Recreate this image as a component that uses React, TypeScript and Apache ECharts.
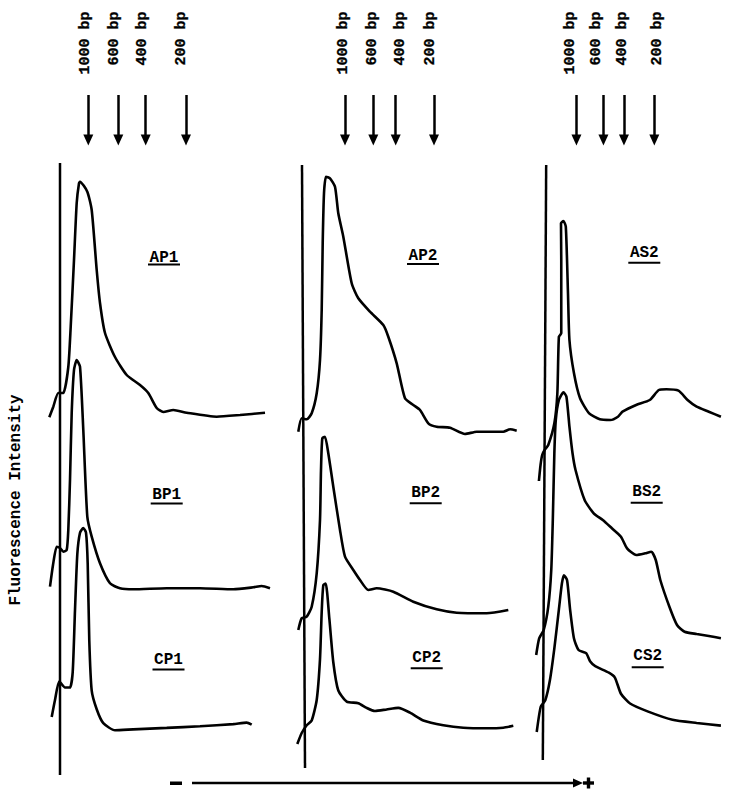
import React, { useEffect, useRef } from "react";
import * as echarts from "echarts";

// ---- Data (migration relative to the well, relative fluorescence above each trace baseline) ----
const bpLabels = ["1000 bp", "600 bp", "400 bp", "200 bp"];
const markerPos1 = [28.3, 58.3, 85.7, 126];
const markerPos2 = [42, 70.3, 92.7, 131];
const markerPos3 = [35, 64.7, 87.3, 120.7];
const labelPos1 = [26, 55, 83, 122];
const labelPos2 = [41.2, 69.8, 97.5, 127.8];
const labelPos3 = [29.5, 58, 86.5, 124.8];

const traceNames = [["AP1", "BP1", "CP1"], ["AP2", "BP2", "CP2"], ["AS2", "BS2", "CS2"]];

const ap1 = [[-10.7, 2.7], [-6.7, 13.3], [-1.7, 27], [3.3, 27], [8.3, 53], [10.7, 93.3], [14, 160], [16.7, 217], [19, 236.7], [20, 238.3], [27.3, 228.3], [31.7, 210], [36.7, 150], [40, 117], [45, 87], [55, 63], [66.7, 45], [80, 35], [88.3, 27], [96.7, 12], [103.3, 8], [113.3, 10], [126.7, 7.3], [156.7, 3.3], [180, 5], [205, 7.3]];
const bp1 = [[-10, 3.3], [-7, 25], [-3.3, 43.3], [0, 42], [3.3, 38.3], [6.7, 40], [8.3, 60], [10, 110], [11.7, 177], [14, 220], [16.7, 230], [20, 223.3], [23.3, 160], [27.3, 73.3], [31.7, 53.3], [40, 26.7], [50, 6.7], [60, 1.7], [73.3, 0.7], [106.7, 1.7], [140, 1.7], [173.3, 0.7], [193.3, 2.7], [201.7, 4], [210, 1.7]];
const cp1 = [[-8.3, 15], [-5, 33.3], [-0.7, 53.3], [5, 46.7], [10, 46.7], [12.7, 63.3], [15, 130], [17.3, 190], [20, 213.3], [23.3, 218.3], [26, 213.3], [27.7, 180], [29.3, 96.7], [31.7, 43.3], [36.7, 23.3], [43.3, 8.3], [55, 0.7], [73.3, 1.7], [106.7, 3.3], [140, 5], [173.3, 7.3], [186.7, 9], [191.7, 6.7]];

const ap2 = [[-4.7, 3.3], [-1.3, 16.7], [3.7, 15.7], [8.7, 21.7], [13.7, 41.7], [17, 75], [18.7, 125], [19.7, 191.7], [21, 241.7], [23, 258.3], [27, 256.7], [32, 248.3], [35.3, 221.7], [40.3, 198.3], [48.7, 151.7], [55.3, 136.7], [67, 123.3], [80.3, 110], [85.3, 98.3], [93.7, 71.7], [102, 36.7], [110.3, 30], [117, 25], [125.3, 11.7], [133.7, 8.3], [147, 7.3], [162, 1], [173.7, 3.3], [200.3, 3.3], [207, 5.7], [213.7, 4.3]];
const bp2 = [[-4.7, -15], [-1.3, -3.3], [3.7, -1.7], [8.7, 8.3], [13.7, 41.7], [17, 95], [18, 145], [19.3, 176.7], [22, 178.3], [25.3, 161.7], [30.3, 128.3], [37, 85], [42, 58.3], [50.3, 45], [57, 35], [65.3, 25], [73.7, 26.7], [90.3, 23.3], [110.3, 13.3], [133.7, 5.7], [153.7, 2.3], [183.7, 1.7], [205.3, 5]];
const cp2 = [[-5.7, -15], [-1.3, -3.3], [3.7, 5], [8.7, 10], [13.7, 31.7], [17, 75], [18.7, 125], [20.3, 153.3], [22.7, 155], [26.3, 118.3], [30.3, 71.7], [35.3, 41.7], [43.7, 30], [55.3, 28.3], [63.7, 23.3], [72, 20], [83.7, 21.7], [95.3, 23.3], [107, 18.3], [120.3, 10], [140.3, 5], [160.3, 2.3], [183.7, 1.7], [200.3, 2.3], [210.3, 4.3]];

const as2 = [[-6.3, -56], [-4.5, -40], [-2.7, -30], [0, -25], [4, -20], [10.7, 1.7], [14, 31.7], [15.7, 88.3], [18.3, 91.7], [18.3, 165], [18, 201.7], [20.7, 204], [23.3, 198.3], [25.7, 131.7], [27.3, 85], [32.3, 51.7], [39, 26.7], [49, 11.7], [60.7, 5.7], [72.3, 5], [80.7, 8.3], [85.7, 13.3], [100.7, 20], [115.7, 25], [125.7, 35], [134, 35.7], [147.3, 34.3], [157.3, 25], [167.3, 18.3], [180.7, 13.3], [194, 8.3]];
const bs2 = [[-9.3, -15], [-6, 1.7], [-1, 10], [4, 33.3], [7.3, 70], [9, 120], [10.7, 186.7], [12.3, 220], [15.7, 240], [20.7, 247.7], [24, 243.3], [27.3, 213.3], [30.7, 186.7], [34, 170], [44, 140], [54, 126.7], [64, 120], [74, 111.7], [84, 103.3], [90.7, 91.7], [100.7, 85], [110.7, 86.7], [117.3, 88.3], [122.3, 80], [127.3, 60], [137.3, 33.3], [145.7, 15], [154, 8.3], [167.3, 6], [180.7, 4], [194, 1.7]];
const cs2 = [[-8.7, -4.3], [-4.3, 21.7], [0.7, 28.3], [5.7, 48.3], [10.7, 81.7], [15.7, 121.7], [19, 148.3], [21.3, 156.7], [24.7, 151.7], [28, 121.7], [32.3, 91.7], [37.3, 80], [45.7, 76.7], [50, 68.3], [55.7, 63.3], [70.7, 56.7], [77.3, 51.7], [84, 35], [94, 25], [114, 16.7], [140.7, 8.3], [167.3, 5], [194, 2.3]];

// well line end points (relative migration, vertical page position)
const well1 = [[0, 163], [0, 775]];
const well2 = [[-1, 165], [2, 768]];
const well3 = [[1.7, 165], [-2, 760]];

// ---- Layout ----
const INK = "#000";
const FONT = '"Liberation Mono", "DejaVu Sans Mono", monospace';
const WELL_X = [60, 303, 546];
const BASELINES = [[420, 590, 750], [435, 615, 745], [425, 640, 735]];
const X_MIN = -15;
const X_MAX = 215;
const Y_MIN = -70;
const Y_MAX = 270;
const SHAFT_TOP = 95;
const HEAD_Y = 140;
const LABEL_TOP = 12;

const panelTraces = [[ap1, bp1, cp1], [ap2, bp2, cp2], [as2, bs2, cs2]];
const panelMarkers = [markerPos1, markerPos2, markerPos3];
const panelLabels = [labelPos1, labelPos2, labelPos3];
const panelWells = [well1, well2, well3];

// label placement (center x, center y, underline y)
const TAG_POS: Record<string, [number, number, number]> = {
  AP1: [164, 258, 264.5], BP1: [166.7, 494.5, 503.5], CP1: [168.5, 660, 669.5],
  AP2: [423, 256, 264], BP2: [425.7, 493, 503.3], CP2: [426.7, 658, 668.3],
  AS2: [644.3, 253, 262.7], BS2: [646.7, 492, 502.7], CS2: [647.7, 656, 667.3],
};

function buildOption() {
  const grid: any[] = [];
  const xAxis: any[] = [];
  const yAxis: any[] = [];
  const series: any[] = [];
  let g = 0;
  for (let p = 0; p < 3; p++) {
    // frame grid (whole page height) for well line, arrows and size labels
    grid.push({ left: WELL_X[p] + X_MIN, width: X_MAX - X_MIN, top: 0, height: 796 });
    xAxis.push({ gridIndex: g, type: "value", min: X_MIN, max: X_MAX, show: false });
    yAxis.push({ gridIndex: g, type: "value", min: 0, max: 796, inverse: true, show: false });
    series.push({
      type: "line",
      xAxisIndex: g,
      yAxisIndex: g,
      data: panelWells[p],
      symbol: "none",
      clip: false,
      lineStyle: { color: INK, width: 2.5 },
      markLine: {
        silent: true,
        symbol: "none",
        label: { show: false },
        lineStyle: { color: INK, width: 2.5, type: "solid" },
        data: panelMarkers[p].map((m) => [{ coord: [m, SHAFT_TOP] }, { coord: [m, HEAD_Y] }]),
      },
    });
    // arrow heads
    series.push({
      type: "scatter",
      xAxisIndex: g,
      yAxisIndex: g,
      symbol: "triangle",
      symbolRotate: 180,
      symbolSize: [10, 11],
      silent: true,
      clip: false,
      itemStyle: { color: INK, opacity: 1 },
      data: panelMarkers[p].map((m) => [m, HEAD_Y]),
    });
    // size labels
    series.push({
      type: "scatter",
      xAxisIndex: g,
      yAxisIndex: g,
      symbolSize: 1,
      silent: true,
      clip: false,
      itemStyle: { color: "rgba(0,0,0,0)" },
      data: panelLabels[p].map((x, i) => ({ value: [x, LABEL_TOP], name: bpLabels[i] })),
      label: {
        show: true,
        formatter: "{b}",
        rotate: 90,
        position: [0, 0],
        align: "right",
        verticalAlign: "middle",
        fontFamily: FONT,
        fontSize: 15,
        fontWeight: "bold",
        color: INK,
        opacity: 1,
        textBorderColor: INK,
        textBorderWidth: 0.3,
      },
    });
    g++;
    for (let t = 0; t < 3; t++) {
      const base = BASELINES[p][t];
      grid.push({ left: WELL_X[p] + X_MIN, width: X_MAX - X_MIN, top: base - Y_MAX, height: Y_MAX - Y_MIN });
      xAxis.push({ gridIndex: g, type: "value", min: X_MIN, max: X_MAX, show: false });
      yAxis.push({ gridIndex: g, type: "value", min: Y_MIN, max: Y_MAX, show: false });
      series.push({
        type: "line",
        name: traceNames[p][t],
        xAxisIndex: g,
        yAxisIndex: g,
        data: panelTraces[p][t],
        symbol: "none",
        smooth: 0.2,
        clip: false,
        lineStyle: { color: INK, width: 2.6 },
      });
      g++;
    }
  }

  const graphic: any[] = [];
  traceNames.flat().forEach((name) => {
    const [cx, cy, uy] = TAG_POS[name];
    graphic.push({
      type: "text",
      x: cx,
      y: cy,
      style: { text: name, fontFamily: FONT, fontSize: 16, fontWeight: "bold", fill: INK, align: "center", verticalAlign: "middle" },
    });
    graphic.push({ type: "rect", shape: { x: cx - 16, y: uy - 1, width: 32, height: 2 }, style: { fill: INK } });
  });
  graphic.push({
    type: "text",
    x: 16,
    y: 500,
    rotation: Math.PI / 2,
    style: { text: "Fluorescence Intensity", fontFamily: FONT, fontSize: 16, fontWeight: "bold", fill: INK, align: "center", verticalAlign: "middle" },
  });
  // migration direction arrow
  graphic.push({ type: "rect", shape: { x: 170, y: 781.5, width: 12, height: 3.5 }, style: { fill: INK } });
  graphic.push({ type: "line", shape: { x1: 192, y1: 783, x2: 576, y2: 783 }, style: { stroke: INK, lineWidth: 2.5 } });
  graphic.push({ type: "polygon", shape: { points: [[573, 778.5], [583, 783], [573, 787.5]] }, style: { fill: INK } });
  graphic.push({ type: "rect", shape: { x: 583, y: 781.3, width: 11, height: 3.4 }, style: { fill: INK } });
  graphic.push({ type: "rect", shape: { x: 586.8, y: 777.5, width: 3.4, height: 11 }, style: { fill: INK } });

  return { animation: false, backgroundColor: "#fff", grid, xAxis, yAxis, series, graphic };
}

export default function App() {
  const ref = useRef<HTMLDivElement>(null);
  useEffect(() => {
    if (!ref.current) return;
    const chart = echarts.init(ref.current, null, { renderer: "svg" });
    chart.setOption(buildOption());
    return () => chart.dispose();
  }, []);
  return <div ref={ref} style={{ position: "absolute", left: 0, top: 0, width: 740, height: 796 }} />;
}
